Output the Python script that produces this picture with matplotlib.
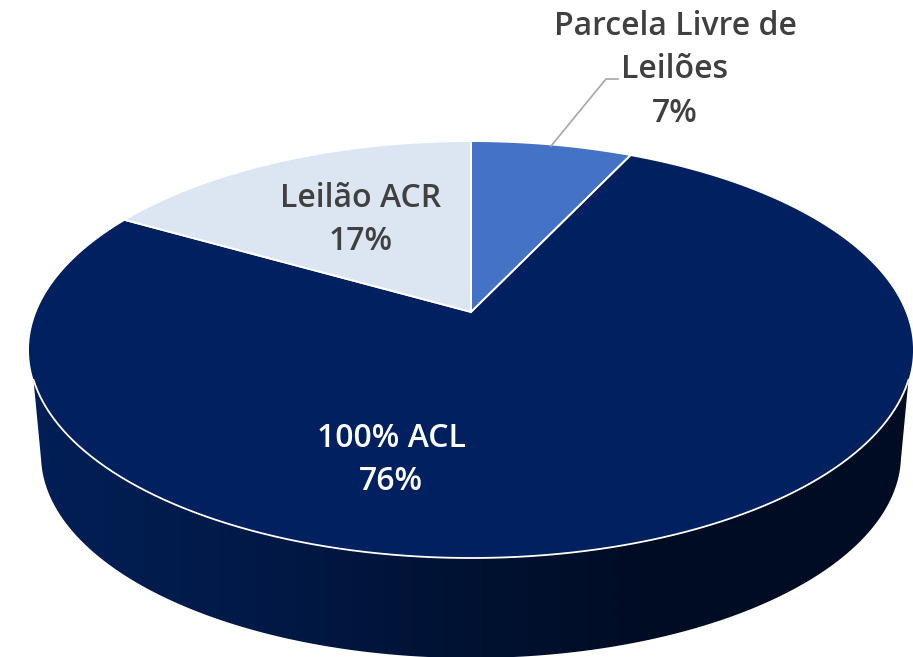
import numpy as np
import matplotlib
matplotlib.use("Agg")
import matplotlib.pyplot as plt
from matplotlib.patches import Polygon
from matplotlib.colors import LinearSegmentedColormap

# clockwise from 12 o'clock
labels = ["Parcela Livre de\nLeilões", "100% ACL", "Leilão ACR"]
values = [7.0, 76.3, 16.7]
colors = ["#4472C4", "#002060", "#DCE6F2"]

plt.rcParams['font.family'] = ['Open Sans', 'DejaVu Sans']

fig = plt.figure(figsize=(9.13, 6.57), dpi=100)
ax = fig.add_axes([0, 0, 1, 1])
ax.set_xlim(0, 913)
ax.set_ylim(657, 0)
ax.axis("off")


# tilted disc: unit circle seen in perspective, centre lands on the apex
def project(theta):
    u, v = np.sin(theta), np.cos(theta)
    w = 1 + 0.1827 * v
    return 471 + 434.6 * u / w, 312 - 201.06 * v / w


# side wall, gradient clipped to the shape between rim and lower ellipse
t = np.linspace(0, 2 * np.pi, 721)
rim_x, rim_y = project(t)
front = rim_y >= 378
order = np.argsort(rim_x[front])
rim_x, rim_y = rim_x[front][order], rim_y[front][order]

low_t = np.linspace(np.radians(181.4), np.radians(358.6), 300)
low_x = 471 + 430 * np.cos(low_t)
low_y = 455 - 203 * np.sin(low_t)

wall_pts = np.vstack([np.column_stack([rim_x, rim_y]), np.column_stack([low_x[::-1], low_y[::-1]])])
wall_cmap = LinearSegmentedColormap.from_list(
    "wall", [(0, "#021F56"), (0.3, "#011844"), (0.5, "#001232"), (0.7, "#000C24"), (1, "#000D23")])
grad = ax.imshow(np.linspace(0, 1, 512).reshape(1, -1), cmap=wall_cmap,
                 extent=[29, 913, 657, 340], aspect="auto", zorder=1)
ax.set_xlim(0, 913)
ax.set_ylim(657, 0)
wall = Polygon(wall_pts, closed=True, facecolor="none", edgecolor="none", transform=ax.transData)
ax.add_patch(wall)
grad.set_clip_path(wall)

# top face
edges = np.cumsum([0] + values) / sum(values) * 2 * np.pi
for i in range(len(values)):
    a = np.linspace(edges[i], edges[i + 1], 200)
    x, y = project(a)
    pts = np.vstack([[471, 312], np.column_stack([x, y])])
    ax.add_patch(Polygon(pts, closed=True, facecolor=colors[i], edgecolor="none", zorder=2))
    # slice borders
    ax.plot([471, x[0]], [312, y[0]], color="white", lw=1.3, zorder=3)
    ax.plot([471, x[-1]], [312, y[-1]], color="white", lw=1.3, zorder=3)

# white rim along the front
ax.plot(rim_x, rim_y, color="white", lw=1.3, zorder=3, solid_capstyle="round")

# leader line
ax.plot([551, 606, 618], [146, 79, 79], color="#A6A6A6", lw=1.2, zorder=3)

# labels
text_kw = dict(ha="center", va="center", fontsize=23, fontweight=600, zorder=4, linespacing=1.41)
ax.text(675, 70, f"{labels[0]}\n{values[0]:.0f}%", color="#404040", **text_kw)
ax.text(391, 460, f"{labels[1]}\n{values[1]:.0f}%", color="white", **text_kw)
ax.text(361, 220, f"{labels[2]}\n{values[2]:.0f}%", color="#404040", **text_kw)

fig.savefig("out.png", dpi=100)
